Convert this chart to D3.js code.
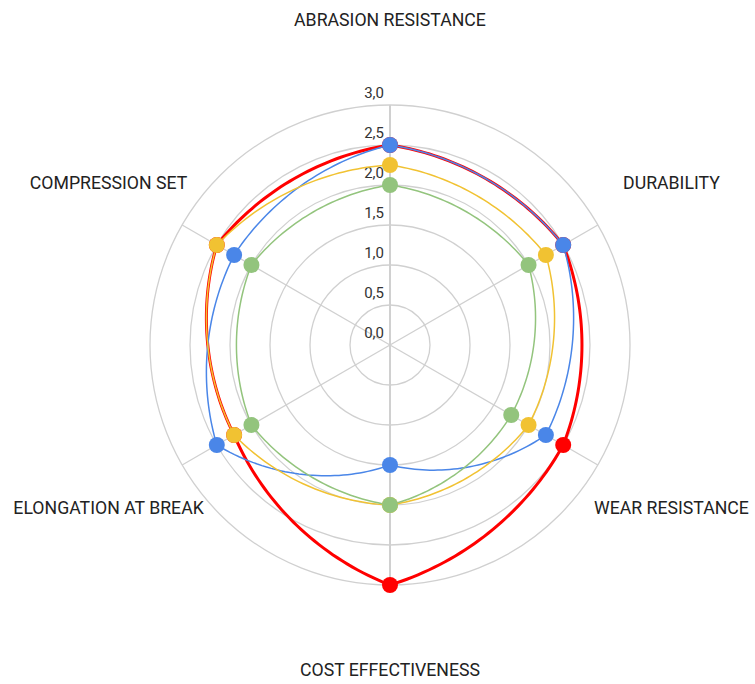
<!DOCTYPE html>
<html><head><meta charset="utf-8">
<script src="https://cdn.jsdelivr.net/npm/d3@7"></script>
<style>body{margin:0;background:#fff;}svg{display:block;font-family:Roboto,"Noto Sans",sans-serif;}</style>
</head><body><svg id="c" width="755" height="684"></svg>
<script>
const categories = ["ABRASION RESISTANCE","DURABILITY","WEAR RESISTANCE","COST EFFECTIVENESS","ELONGATION AT BREAK","COMPRESSION SET"];
const seriesNames = ["Red","Blue","Yellow","Green"];
const redValues    = [2.5, 2.5, 2.5, 3.0, 2.25, 2.5];
const blueValues   = [2.5, 2.5, 2.25, 1.5, 2.5, 2.25];
const yellowValues = [2.25, 2.25, 2.0, 2.0, 2.25, 2.5];
const greenValues  = [2.0, 2.0, 1.75, 2.0, 2.0, 2.0];
const tickValues = [0, 0.5, 1.0, 1.5, 2.0, 2.5, 3.0];
const tickLabels = ["0,0","0,5","1,0","1,5","2,0","2,5","3,0"];

const series = [
  {name: seriesNames[0], values: redValues, color: "#ff0000", width: 3},
  {name: seriesNames[1], values: blueValues, color: "#4a86e8", width: 1.5},
  {name: seriesNames[2], values: yellowValues, color: "#f1c232", width: 1.5},
  {name: seriesNames[3], values: greenValues, color: "#93c47d", width: 1.5}
];

const cx = 390, cy = 345;
const svg = d3.select("#c");
const g = svg.append("g").attr("transform", `translate(${cx},${cy})`);
const r = d3.scaleLinear().domain([0, 3]).range([0, 240]);
const ang = d3.scalePoint().domain(categories).range([0, 2*Math.PI*(5/6)]);
const pt = (a, rad) => [rad*Math.sin(a), -rad*Math.cos(a)];

// Custom closed curve: each segment is a blend of the chord and the polar (spiral) path
function curvePolarBlend(k) {
  return function(context) {
    let pts;
    return {
      areaStart(){}, areaEnd(){},
      lineStart(){ pts = []; },
      point(x, y){ pts.push([+x, +y]); },
      lineEnd(){
        const n = pts.length;
        if (!n) return;
        const pol = pts.map(([x,y]) => [Math.atan2(x, -y), Math.hypot(x, y)]);
        context.moveTo(pts[0][0], pts[0][1]);
        const N = 40;
        for (let i = 0; i < n; i++) {
          const j = (i + 1) % n;
          let a0 = pol[i][0], a1 = pol[j][0];
          let da = a1 - a0;
          while (da <= -Math.PI) da += 2*Math.PI;
          while (da > Math.PI) da -= 2*Math.PI;
          const r0 = pol[i][1], r1 = pol[j][1];
          for (let s = 1; s <= N; s++) {
            const t = s / N;
            const a = a0 + da*t, rr = r0 + (r1 - r0)*t;
            const px = rr*Math.sin(a), py = -rr*Math.cos(a);
            const qx = pts[i][0] + (pts[j][0]-pts[i][0])*t;
            const qy = pts[i][1] + (pts[j][1]-pts[i][1])*t;
            context.lineTo(qx + (px - qx)*k, qy + (py - qy)*k);
          }
        }
        context.closePath();
      }
    };
  };
}

// grid circles
g.selectAll("circle.grid").data(tickValues.slice(1)).join("circle")
  .attr("r", d => r(d)).attr("fill","none").attr("stroke","#d0d0d0").attr("stroke-width",1.3);
// spokes
g.selectAll("line.spoke").data(categories).join("line")
  .attr("x1",0).attr("y1",0)
  .attr("x2", d => pt(ang(d), r(3))[0]).attr("y2", d => pt(ang(d), r(3))[1])
  .attr("stroke", "#d0d0d0").attr("stroke-width", (d,i)=> (i===0||i===3)?2:1.3);

// tick labels
g.selectAll("text.tick").data(tickValues).join("text")
  .attr("x", -6).attr("y", d => -r(d) - 12)
  .attr("text-anchor","end").attr("dominant-baseline","central")
  .attr("font-size", 15).attr("fill","#333")
  .text((d,i) => tickLabels[i]);

// category labels
g.selectAll("text.cat").data(categories).join("text")
  .attr("x", d => pt(ang(d), 325)[0]).attr("y", d => pt(ang(d), 325)[1])
  .attr("text-anchor","middle").attr("dominant-baseline","central")
  .attr("font-size", 17.7).attr("fill","#222")
  .text(d => d);

const line = d3.lineRadial()
  .angle((d,i) => ang(categories[i]))
  .radius(d => r(d))
  .curve(curvePolarBlend(0.7));

series.forEach(s => {
  g.append("path").attr("d", line(s.values)).attr("fill","none")
    .attr("stroke", s.color).attr("stroke-width", s.width).attr("stroke-linejoin","round");
});
series.forEach(s => {
  g.append("g").selectAll("circle").data(s.values).join("circle")
    .attr("cx", (d,i) => pt(ang(categories[i]), r(d))[0])
    .attr("cy", (d,i) => pt(ang(categories[i]), r(d))[1])
    .attr("r", 8).attr("fill", s.color);
});
</script></body></html>
